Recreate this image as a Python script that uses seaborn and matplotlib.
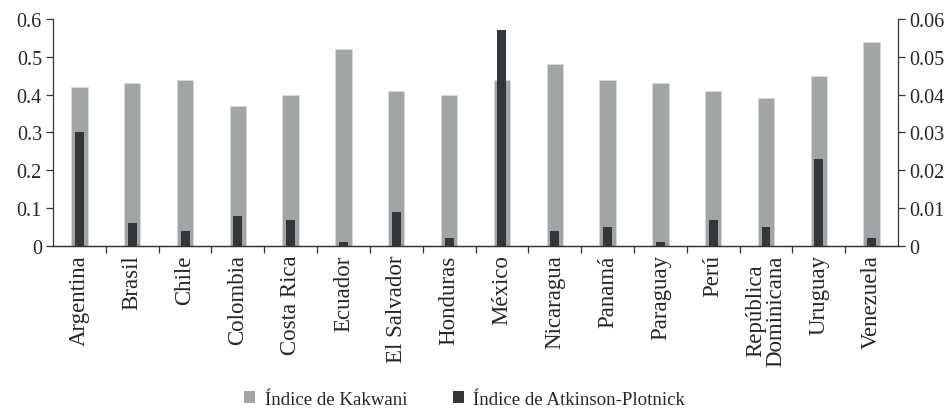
import matplotlib
matplotlib.use("Agg")
import matplotlib.pyplot as plt
import seaborn as sns
import pandas as pd
from matplotlib.patches import Patch
from matplotlib.ticker import FixedLocator

# Data
paises = ["Argentina", "Brasil", "Chile", "Colombia", "Costa Rica", "Ecuador",
          "El Salvador", "Honduras", "México", "Nicaragua", "Panamá", "Paraguay",
          "Perú", "República\nDominicana", "Uruguay", "Venezuela"]
kakwani = [0.42, 0.43, 0.44, 0.37, 0.40, 0.52, 0.41, 0.40,
           0.44, 0.48, 0.44, 0.43, 0.41, 0.39, 0.45, 0.54]
atkinson = [0.030, 0.006, 0.004, 0.008, 0.007, 0.001, 0.009, 0.002,
            0.057, 0.004, 0.005, 0.001, 0.007, 0.005, 0.023, 0.002]

gris = "#a2a5a6"
oscuro = "#33373a"
linea = "#333333"

sns.set_style("white")
plt.rcParams["font.family"] = ["Liberation Serif", "DejaVu Serif"]
plt.rcParams["font.size"] = 14.5

df = pd.DataFrame({"pais": paises, "kakwani": kakwani, "atkinson": atkinson})

fig = plt.figure(figsize=(9.52, 4.10), dpi=100)
ax = fig.add_axes([0.0557, 0.3976, 0.8876, 0.5536])

sns.barplot(data=df, x="pais", y="kakwani", color=gris, width=0.31,
            saturation=1, edgecolor="#d8d9da", linewidth=0.6, ax=ax)
ax2 = ax.twinx()
sns.barplot(data=df, x="pais", y="atkinson", color=oscuro, width=0.17,
            saturation=1, linewidth=0, ax=ax2)

n = len(paises)
for a in (ax, ax2):
    a.set_xlim(-0.5, n - 0.5)
    a.set_xlabel("")
    a.set_ylabel("")

ax.set_ylim(0, 0.6)
ax2.set_ylim(0, 0.06)
ax.set_yticks([0, 0.1, 0.2, 0.3, 0.4, 0.5, 0.6])
ax.set_yticklabels(["0", "0.1", "0.2", "0.3", "0.4", "0.5", "0.6"])
ax2.set_yticks([0, 0.01, 0.02, 0.03, 0.04, 0.05, 0.06])
ax2.set_yticklabels(["0", "0.01", "0.02", "0.03", "0.04", "0.05", "0.06"])

ax.set_xticks(range(n))
ax.set_xticklabels(paises, rotation=90, va="top", ha="center",
                   multialignment="center", linespacing=0.95, fontsize=16.5)
ax.xaxis.set_minor_locator(FixedLocator([i + 0.5 for i in range(n - 1)]))
ax.tick_params(axis="x", which="major", length=0, pad=6)
ax.tick_params(axis="x", which="minor", length=5, width=0.9, color=linea,
               direction="out", bottom=True)
ax.tick_params(axis="y", length=5, width=0.9, color=linea, left=True, pad=3)
ax2.tick_params(axis="y", length=5, width=0.9, color=linea, right=True, pad=3)

for a in (ax, ax2):
    a.spines["top"].set_visible(False)
    for s in ("left", "right", "bottom"):
        a.spines[s].set_color(linea)
        a.spines[s].set_linewidth(0.9)
ax.spines["right"].set_visible(False)
ax2.spines["left"].set_visible(False)

handles = [Patch(facecolor=gris, edgecolor="none", label="Índice de Kakwani"),
           Patch(facecolor=oscuro, edgecolor="none", label="Índice de Atkinson-Plotnick")]
fig.legend(handles=handles, loc="center", bbox_to_anchor=(0.488, 0.024),
           ncol=2, frameon=False, handlelength=0.6, handleheight=0.6,
           handletextpad=0.5, columnspacing=2.4, fontsize=13.6,
           borderpad=0.1)

fig.savefig("out.png", dpi=100)
